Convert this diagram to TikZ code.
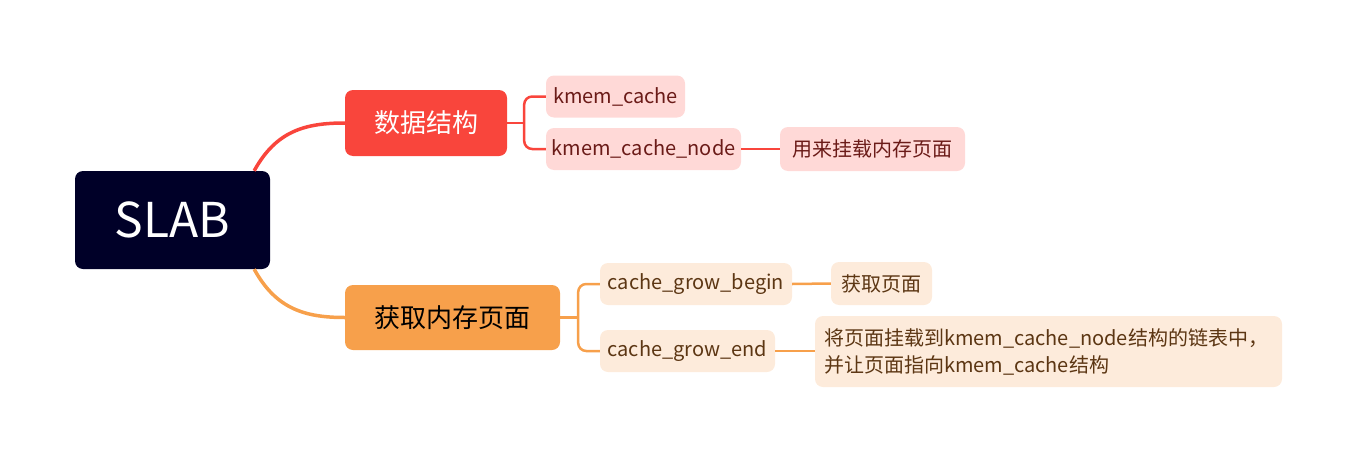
\documentclass[tikz,border=0pt]{standalone}
\usepackage{fontspec}
\setmainfont{Noto Sans CJK SC}
\usepackage{tikz}
\usetikzlibrary{calc}
\usetikzlibrary{positioning}
\definecolor{slabnavy}{HTML}{000028}
\definecolor{datared}{HTML}{F9453C}
\definecolor{groworange}{HTML}{F7A04B}
\definecolor{pinkfill}{HTML}{FFD9D7}
\definecolor{peachfill}{HTML}{FDEBDB}
\definecolor{pinktext}{HTML}{6B1B18}
\definecolor{peachtext}{HTML}{5C3613}
\begin{document}
\begin{tikzpicture}[x=1pt,y=-1pt]
 \useasboundingbox (0,0) rectangle (1357,463);
 \tikzstyle{box} = [rounded corners=8pt,inner sep=0pt,align=center]
 \tikzstyle{leaf} = [box,fill=pinkfill,text=pinktext,font=\fontsize{20}{27}\selectfont,minimum height=42pt]
 \tikzstyle{pleaf} = [box,fill=peachfill,text=peachtext,font=\fontsize{20}{27}\selectfont,minimum height=42pt]
 \tikzstyle{redline} = [datared,line width=2.5pt]
 \tikzstyle{orangeline} = [groworange,line width=2.5pt]
  %Draw the root and the two branches
 \node [box,fill=slabnavy,text=white,font=\fontsize{48}{50}\selectfont,minimum width=195pt,minimum height=98pt] (slab) at (172.5,220) {SLAB};
 \node [box,fill=datared,text=white,font=\fontsize{26}{30}\selectfont,minimum width=162pt,minimum height=66pt] (data) at (426,123) {数据结构};
 \node [box,fill=groworange,text=black,font=\fontsize{26}{30}\selectfont,minimum width=215pt,minimum height=65pt] (grow) at (452.5,317.5) {获取内存页面};
  %Draw the leaves
 \node [leaf,minimum width=139pt] (kc) at (615.5,96.5) {kmem\_cache};
 \node [leaf,minimum width=195pt] (kcn) at (643.5,149) {kmem\_cache\_node};
 \node [leaf,minimum width=185pt,minimum height=44pt] (mount) at (872.5,149) {用来挂载内存页面};
 \node [pleaf,minimum width=192pt] (begin) at (696,284) {cache\_grow\_begin};
 \node [pleaf,minimum width=101pt,minimum height=43pt] (page) at (881.5,283.5) {获取页面};
 \node [pleaf,minimum width=175pt] (end) at (687.5,351) {cache\_grow\_end};
 \node [pleaf,align=left,inner xsep=9pt,text width=449pt,minimum height=71pt] (link) at (1048.5,351.5) {将页面挂载到kmem\_cache\_node结构的链表中，\\并让页面指向kmem\_cache结构};
  %Draw lines
 \draw [datared,line width=3.5pt] ([xshift=-16pt]slab.north east) .. controls (276,131) and (305,123) .. (data.west);
 \draw [groworange,line width=3.5pt] ([xshift=-16pt]slab.south east) .. controls (276,309) and (305,317.5) .. (grow.west);
 \coordinate (dfork) at ($(data.east)+(17,0)$);
 \coordinate (gfork) at ($(grow.east)+(18,0)$);
 \draw [redline] (data.east) -- (dfork);
 \draw [redline,rounded corners=8pt] (kc.west) -| (dfork) |- (kcn.west);
 \draw [redline] (kcn.east) -- (mount.west);
 \draw [orangeline] (grow.east) -- (gfork);
 \draw [orangeline,rounded corners=8pt] (begin.west) -| (gfork) |- (end.west);
 \draw [orangeline] (begin.east) -- (page.west);
 \draw [orangeline] (end.east) -- (end.east -| link.west);
\end{tikzpicture}
\end{document}
